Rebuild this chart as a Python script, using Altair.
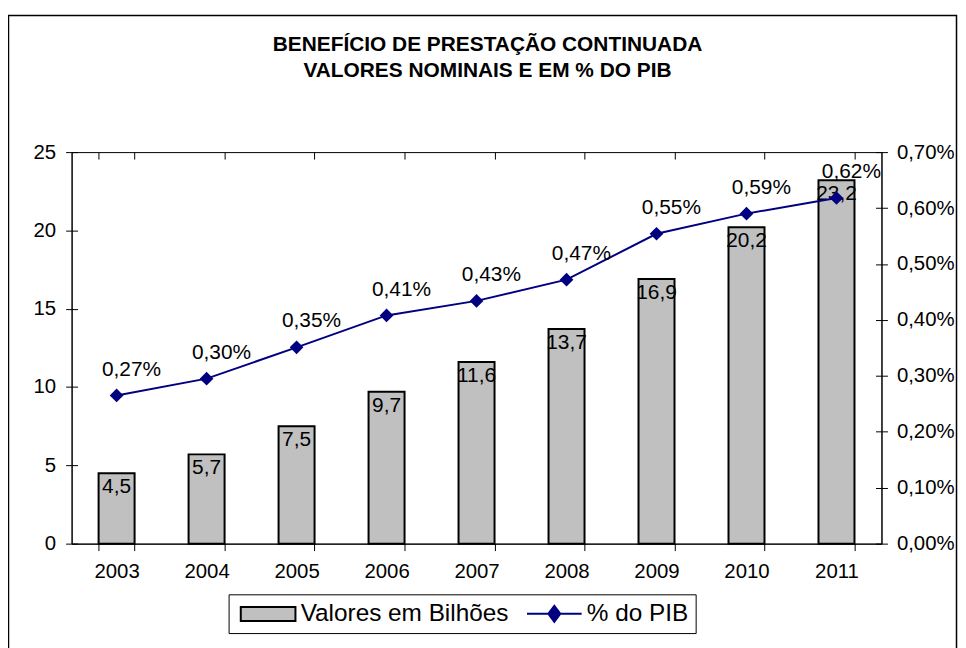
import altair as alt
import pandas as pd

anos = ["2003", "2004", "2005", "2006", "2007", "2008", "2009", "2010", "2011"]
valores = [4.5, 5.7, 7.5, 9.7, 11.6, 13.7, 16.9, 20.2, 23.2]
valores_rotulo = ["4,5", "5,7", "7,5", "9,7", "11,6", "13,7", "16,9", "20,2", "23,2"]
pib = [0.265, 0.295, 0.351, 0.408, 0.434, 0.472, 0.554, 0.590, 0.618]
pib_rotulo = ["0,27%", "0,30%", "0,35%", "0,41%", "0,43%", "0,47%", "0,55%", "0,59%", "0,62%"]
series = ["Valores em Bilhões", "% do PIB"]
titulo = ["BENEFÍCIO DE PRESTAÇÃO CONTINUADA", "VALORES NOMINAIS E EM % DO PIB"]

FONT = "Liberation Sans"
NAVY = "#000080"
GRAY = "#c0c0c0"
LBL = 20.5

df = pd.DataFrame({
    "ano": anos,
    "valor": valores,
    "valor_rotulo": valores_rotulo,
    "pib": pib,
    "pib_rotulo": pib_rotulo,
})
df_leg = pd.DataFrame({"serie": series})

x_scale = alt.Scale(paddingInner=0.6, paddingOuter=0.3)
x_main = alt.X(
    "ano:N", sort=anos, scale=x_scale,
    axis=alt.Axis(
        title=None, labelAngle=0, tickBand="extent", tickSize=7,
        labelPadding=11, labelFontSize=LBL,
    ),
)
x_inner_ticks = alt.X(
    "ano:N", sort=anos, scale=x_scale,
    axis=alt.Axis(
        title=None, tickBand="extent", tickSize=7, offset=-7,
        labels=False, domain=False,
    ),
)
x_plain = alt.X("ano:N", sort=anos)

left_vals = [0, 5, 10, 15, 20, 25]
right_vals = [0, 0.1, 0.2, 0.3, 0.4, 0.5, 0.6, 0.7]
left_scale = alt.Scale(domain=[0, 25], nice=False)
right_scale = alt.Scale(domain=[0, 0.7], nice=False)

y_left = alt.Y(
    "valor:Q", scale=left_scale,
    axis=alt.Axis(
        orient="left", title=None, values=left_vals,
        tickSize=6, labelPadding=10, labelFontSize=LBL,
    ),
)
y_left_inner = alt.Y(
    "valor:Q", scale=left_scale,
    axis=alt.Axis(
        orient="left", title=None, values=left_vals, tickSize=6, offset=-6,
        labels=False, domain=False,
    ),
)
y_right = alt.Y(
    "pib:Q", scale=right_scale,
    axis=alt.Axis(
        orient="right", title=None, values=right_vals,
        labelExpr="replace(format(datum.value, '.2f'), '.', ',') + '%'",
        tickSize=6, labelPadding=9, labelFontSize=LBL,
    ),
)
y_right_inner = alt.Y(
    "pib:Q", scale=right_scale,
    axis=alt.Axis(
        orient="right", title=None, values=right_vals, tickSize=6, offset=-6,
        labels=False, domain=False,
    ),
)
y_right_none = alt.Y("pib:Q", scale=right_scale, axis=None)

base = alt.Chart(df)

bars = base.mark_bar(fill=GRAY, stroke="black", strokeWidth=2).encode(
    x=x_main, y=y_left
)
bar_text = base.mark_text(
    baseline="top", dy=3, fontSize=21, font=FONT, color="black"
).encode(x=x_plain, y=y_left_inner, text="valor_rotulo:N")

left = alt.layer(bars, bar_text).resolve_axis(y="independent")

line = base.mark_line(color=NAVY, strokeWidth=2).encode(x=x_inner_ticks, y=y_right)
pts = base.mark_point(
    shape="diamond", filled=True, color=NAVY, size=190, opacity=1
).encode(x=x_plain, y=y_right_inner)
pib_text = base.mark_text(
    baseline="alphabetic", dx=15, dy=-20, fontSize=21, font=FONT, color="black"
).encode(x=x_plain, y=y_right_none, text="pib_rotulo:N")

right = alt.layer(line, pts, pib_text).resolve_axis(y="independent")

leg = alt.Legend(
    title=None, orient="none", legendX=158, legendY=445,
    direction="horizontal", strokeColor="black", padding=7,
    symbolSize=196, symbolStrokeWidth=2, symbolOpacity=1,
    labelFontSize=24.5, labelFont=FONT, labelColor="black", labelOffset=41,
    labelLimit=0, columnPadding=13,
)
legend_layer = alt.Chart(df_leg).mark_point(filled=True, opacity=0).encode(
    fill=alt.Fill("serie:N", scale=alt.Scale(domain=series, range=[GRAY, NAVY]), legend=leg),
    stroke=alt.Stroke("serie:N", scale=alt.Scale(domain=series, range=["black", NAVY]), legend=leg),
    shape=alt.Shape(
        "serie:N",
        scale=alt.Scale(
            domain=series,
            range=[
                "M-1,-1H6.86V1H-1Z",
                "M-1,0H2.07M3.79,0H6.86M2.93,-1.14L3.79,0L2.93,1.14L2.07,0Z",
            ],
        ),
        legend=leg,
    ),
)

frame = alt.Chart(pd.DataFrame({"k": [0]})).mark_rect(
    filled=False, stroke="black", strokeWidth=1.5
).encode(
    x=alt.value(-63.5), x2=alt.value(890.5), y=alt.value(-137.5), y2=alt.value(700)
)

chart = (
    alt.layer(left, right, legend_layer, frame)
    .resolve_scale(y="independent")
    .resolve_axis(x="independent")
    .properties(
        width=815, height=394,
        autosize=alt.AutoSizeParams(type="none"),
        padding={"left": 64, "top": 143, "right": 77, "bottom": 103},
        title=alt.TitleParams(
            titulo, fontSize=21, font=FONT, fontWeight="bold", color="black",
            lineHeight=26, offset=-67, dx=11, anchor="middle",
        ),
    )
    .configure_view(stroke="black", strokeWidth=1)
    .configure_axis(
        domainColor="black", tickColor="black", labelColor="black",
        labelFont=FONT, grid=False, domainWidth=1, tickWidth=1,
    )
)

chart.save("out.html", embed_options={"renderer": "svg", "actions": False})
